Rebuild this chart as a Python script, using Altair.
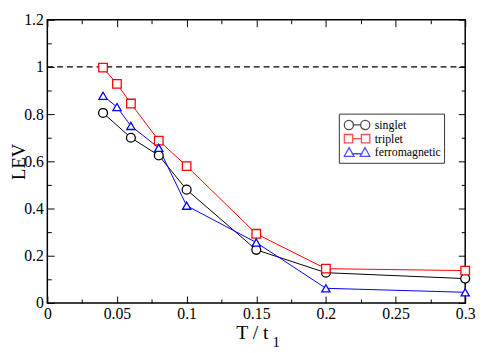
import altair as alt
import pandas as pd

# ---- data ----
series_names = ["singlet", "triplet", "ferromagnetic"]
series_colors = ["black", "red", "blue"]

T_singlet = [0.04, 0.06, 0.08, 0.10, 0.15, 0.20, 0.30]
LEV_singlet = [0.805, 0.700, 0.625, 0.480, 0.225, 0.128, 0.103]

T_triplet = [0.04, 0.05, 0.06, 0.08, 0.10, 0.15, 0.20, 0.30]
LEV_triplet = [0.997, 0.928, 0.845, 0.688, 0.580, 0.293, 0.145, 0.137]

T_ferro = [0.04, 0.05, 0.06, 0.08, 0.10, 0.15, 0.20, 0.30]
LEV_ferro = [0.878, 0.830, 0.750, 0.657, 0.412, 0.256, 0.062, 0.045]

ref_T = [0.0, 0.3]
ref_LEV = [1.0, 1.0]

x_major = [0, 0.05, 0.1, 0.15, 0.2, 0.25, 0.3]
x_minor = [0.025, 0.075, 0.125, 0.175, 0.225, 0.275]
y_major = [0, 0.2, 0.4, 0.6, 0.8, 1.0, 1.2]
y_minor = [0.1, 0.3, 0.5, 0.7, 0.9, 1.1]

x_title_main = ["T / t"]
x_title_sub = ["1"]
y_title = "LEV"

rows = []
for name, xs_, ys_ in [("singlet", T_singlet, LEV_singlet),
                       ("triplet", T_triplet, LEV_triplet),
                       ("ferromagnetic", T_ferro, LEV_ferro)]:
    for xv, yv in zip(xs_, ys_):
        rows.append({"series": name, "T": xv, "LEV": yv})
df = pd.DataFrame(rows)
ref_df = pd.DataFrame({"T": ref_T, "LEV": ref_LEV})

FONT = "Liberation Serif"
W, H = 425, 288

xs = alt.Scale(domain=[0, 0.3], nice=False, zero=False)
ys = alt.Scale(domain=[0, 1.2], nice=False, zero=False)
cscale = alt.Scale(domain=series_names, range=series_colors)


def ax(orient, values, labels=False, tick=0, title=None, **kw):
    args = dict(orient=orient, values=values, grid=False, domain=False,
                labels=labels, title=title)
    if tick:
        args.update(ticks=True, tickSize=tick, offset=-tick)
    else:
        args.update(ticks=False)
    args.update(kw)
    return alt.Axis(**args)


base = alt.Chart(df)

lines = base.mark_line(strokeWidth=1).encode(
    x=alt.X("T:Q", scale=xs, axis=ax("bottom", x_major, labels=True, format="~g",
                                       labelPadding=3)),
    y=alt.Y("LEV:Q", scale=ys, axis=ax("left", y_major, labels=True, title=y_title,
                                         format="~g", titleX=-23, titleFontSize=19,
                                         labelPadding=4)),
    color=alt.Color("series:N", scale=cscale, legend=None),
    detail="series:N",
)

points = base.mark_point(strokeWidth=1.3, opacity=1).encode(
    x=alt.X("T:Q", scale=xs, axis=ax("bottom", x_major, tick=7)),
    y=alt.Y("LEV:Q", scale=ys, axis=ax("left", y_major, tick=7)),
    stroke=alt.Stroke("series:N", scale=cscale, legend=None),
    fill=alt.value("white"),
    shape=alt.Shape("series:N", scale=alt.Scale(domain=series_names,
                                                range=["circle", "square", "triangle-up"]),
                    legend=None),
    size=alt.Size("series:N", scale=alt.Scale(domain=series_names, range=[81, 70, 100]),
                  legend=None),
)

ref_line = alt.Chart(ref_df).mark_line(color="black", strokeWidth=1.3,
                                       strokeDash=[6, 4]).encode(
    x=alt.X("T:Q", scale=xs, axis=ax("bottom", x_minor, tick=4)),
    y=alt.Y("LEV:Q", scale=ys, axis=ax("left", y_minor, tick=4)),
)

# legend symbols: marker - line - marker (unit box, scaled by sqrt(size)/2)
P_circle = ("M-0.28,0A0.36,0.36,0,1,1,-1,0A0.36,0.36,0,1,1,-0.28,0Z"
            "M-0.28,0L0.28,0"
            "M1,0A0.36,0.36,0,1,1,0.28,0A0.36,0.36,0,1,1,1,0Z")
P_square = ("M-1,-0.33L-0.34,-0.33L-0.34,0.33L-1,0.33Z"
            "M-0.34,0L0.34,0"
            "M0.34,-0.33L1,-0.33L1,0.33L0.34,0.33Z")
P_tri = ("M-0.62,-0.38L-0.24,0.3L-1,0.3Z"
         "M-0.43,0.1L0.43,0.1"
         "M0.62,-0.38L1,0.3L0.24,0.3Z")

LEG_X, LEG_Y, LEG_W, LEG_H = 297, 96, 107, 50
leg = dict(orient="none", legendX=LEG_X, legendY=LEG_Y, title=None)

legend_box = alt.Chart(pd.DataFrame({"box": [0]})).mark_rect(
    fill="white", stroke="#333333", strokeWidth=1
).encode(x=alt.value(LEG_X), x2=alt.value(LEG_X + LEG_W),
         y=alt.value(LEG_Y), y2=alt.value(LEG_Y + LEG_H))

legend_layer = base.transform_filter("false").mark_point(filled=False, strokeWidth=1.3).encode(
    x=alt.X("T:Q", scale=xs, axis=ax("top", x_major, tick=7)),
    y=alt.Y("LEV:Q", scale=ys, axis=ax("right", y_major, tick=7)),
    color=alt.Color("series:N", scale=cscale, legend=alt.Legend(**leg)),
    shape=alt.Shape("series:N", scale=alt.Scale(domain=series_names,
                                                range=[P_circle, P_square, P_tri]),
                    legend=alt.Legend(**leg)),
)

dummy = base.mark_line(strokeOpacity=0).encode(
    x=alt.X("T:Q", scale=xs, axis=ax("top", x_minor, tick=4)),
    y=alt.Y("LEV:Q", scale=ys, axis=ax("right", y_minor, tick=4)),
    detail="series:N",
)

title_main = alt.Chart(pd.DataFrame({"t": x_title_main})).mark_text(
    font=FONT, fontSize=20, align="right", baseline="alphabetic", color="black"
).encode(text="t:N", x=alt.value(225), y=alt.value(324.5))

title_sub = alt.Chart(pd.DataFrame({"t": x_title_sub})).mark_text(
    font=FONT, fontSize=15, align="left", baseline="alphabetic", color="black"
).encode(text="t:N", x=alt.value(229), y=alt.value(332.5))

chart = alt.layer(lines, ref_line, points, legend_box, legend_layer, dummy,
                  title_main, title_sub).resolve_axis(
    x="independent", y="independent"
).resolve_scale(
    shape="independent", color="independent", stroke="independent", size="independent"
).properties(
    width=W, height=H,
    autosize=alt.AutoSizeParams(type="none"),
    padding={"left": 40, "top": 9, "right": 12, "bottom": 48},
).configure_view(
    stroke="black", strokeWidth=1.5
).configure_axis(
    labelFont=FONT, labelFontSize=16, labelColor="black",
    labelOverlap=False, labelFlush=False,
    titleFont=FONT, titleFontWeight="normal", titleColor="black",
    titleBaseline="alphabetic",
    tickColor="black", tickWidth=1,
).configure_legend(
    padding=4, symbolSize=676, symbolStrokeWidth=1.3, labelFont=FONT,
    labelFontSize=12, labelColor="black", labelOffset=4,
    clipHeight=14, rowPadding=0,
)

chart.save("out.html", embed_options={"renderer": "svg", "actions": False})
